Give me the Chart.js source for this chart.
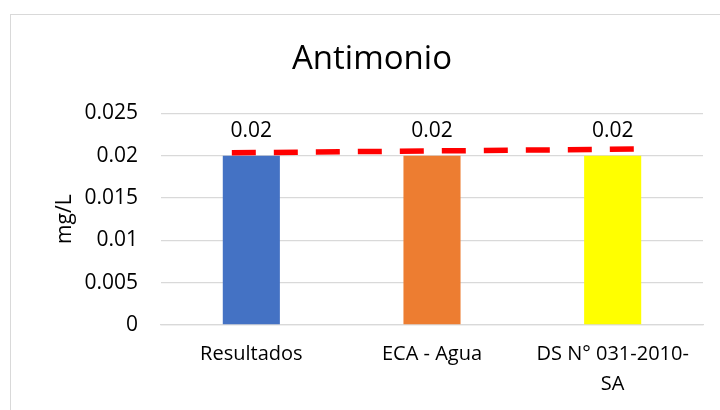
<!DOCTYPE html>
<html>
<head>
<meta charset="utf-8">
<script src="https://cdn.jsdelivr.net/npm/chart.js@4"></script>
<style>
  html, body { margin: 0; padding: 0; background: #fff; overflow: hidden; }
  #frame {
    position: absolute; left: 10px; top: 14px;
    width: 722px; height: 395px;
    border-left: 1px solid #d9d9d9; border-top: 1px solid #d9d9d9;
    background: #fff;
  }
  #chart { display: block; }
</style>
</head>
<body>
<div id="frame"><canvas id="chart" width="722" height="395"></canvas></div>
<script>
const categories = ["Resultados", "ECA - Agua", ["DS N° 031-2010-", "SA"]];
const values = [0.02, 0.02, 0.02];
const barColors = ["#4472C4", "#ED7D31", "#FFFF00"];
const yTickLabels = ["0", "0.005", "0.01", "0.015", "0.02", "0.025"];
// dashed limit line, x in category units (0 = first bar)
const limitLine = [
  { x: -0.108, y: 0.02034 },
  { x: 2.119, y: 0.02077 }
];

const FONT = "'Open Sans', 'Noto Sans', sans-serif";

// writes the value above each bar
const barLabels = {
  id: "barLabels",
  afterDatasetsDraw(chart) {
    const ctx = chart.ctx;
    const meta = chart.getDatasetMeta(1);
    ctx.save();
    ctx.font = "21px " + FONT;
    ctx.fillStyle = "#000";
    ctx.textAlign = "center";
    ctx.textBaseline = "alphabetic";
    meta.data.forEach((bar, i) => {
      ctx.fillText(String(values[i]), bar.x, bar.y - 19);
    });
    ctx.restore();
  }
};

new Chart(document.getElementById("chart"), {
  type: "bar",
  data: {
    labels: categories,
    datasets: [
      {
        type: "line",
        data: limitLine,
        xAxisID: "xLine",
        borderColor: "#FF0000",
        borderWidth: 5.5,
        borderDash: [24, 18],
        pointRadius: 0,
        tension: 0,
        fill: false,
        order: 0
      },
      {
        type: "bar",
        data: values,
        xAxisID: "x",
        backgroundColor: barColors,
        categoryPercentage: 1,
        barPercentage: 0.316,
        grouped: false,
        order: 1
      }
    ]
  },
  options: {
    responsive: false,
    animation: false,
    layout: { padding: 0 },
    plugins: {
      legend: { display: false },
      tooltip: { enabled: false },
      title: {
        display: true,
        text: "Antimonio",
        color: "#000",
        font: { family: FONT, size: 33, weight: "normal", lineHeight: 1.2 },
        padding: { top: 25, bottom: 33.7 }
      }
    },
    scales: {
      x: {
        type: "category",
        grid: { display: false, drawTicks: false },
        border: { display: true, color: "#d9d9d9", width: 1.3 },
        ticks: {
          color: "#000",
          padding: 14,
          maxRotation: 0,
          font: { family: FONT, size: 20, lineHeight: 1.5 }
        },
        afterFit(scale) { scale.height = 85; }
      },
      xLine: {
        type: "linear",
        display: false,
        offset: false,
        min: -0.5,
        max: 2.5
      },
      y: {
        min: 0,
        max: 0.025,
        grid: { color: "#d9d9d9", lineWidth: 1.3, drawTicks: false },
        border: { display: false },
        ticks: {
          stepSize: 0.005,
          color: "#000",
          padding: 23,
          font: { family: FONT, size: 21 },
          callback: (v, i) => yTickLabels[i]
        },
        title: {
          display: true,
          text: "mg/L",
          color: "#000",
          font: { family: FONT, size: 21, lineHeight: 1.2 },
          padding: { top: 41, bottom: 0 }
        },
        afterFit(scale) { scale.width = 150; }
      },
      // empty right-hand gutter so the title stays centred on the whole frame
      gutter: {
        type: "linear",
        position: "right",
        grid: { display: false, drawTicks: false },
        border: { display: false },
        ticks: { display: false },
        afterFit(scale) { scale.width = 30; }
      }
    }
  },
  plugins: [barLabels]
});
</script>
</body>
</html>
